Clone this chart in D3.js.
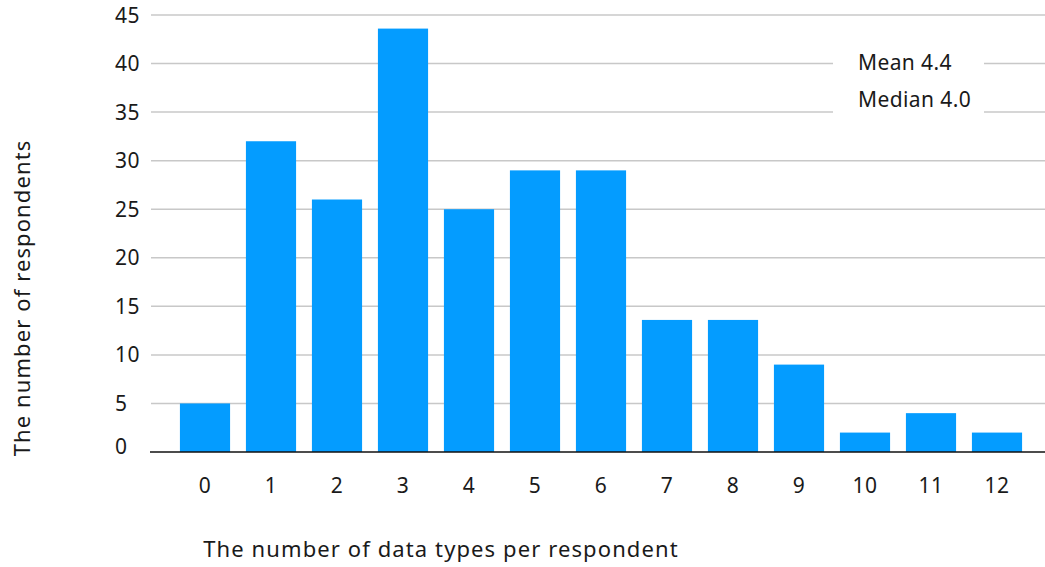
<!DOCTYPE html>
<html>
<head>
<meta charset="utf-8">
<script src="https://cdn.jsdelivr.net/npm/d3@7"></script>
<style>
  html, body { margin: 0; padding: 0; background: #fff; }
  svg { display: block; font-family: "Noto Sans", sans-serif; }
</style>
</head>
<body>
<svg id="chart" width="1045" height="567"></svg>
<script>
const categories = ["0","1","2","3","4","5","6","7","8","9","10","11","12"];
const respondents = [5, 32, 26, 43.6, 25, 29, 29, 13.6, 13.6, 9, 2, 4, 2];
const yTicks = [0, 5, 10, 15, 20, 25, 30, 35, 40, 45];
const statLabels = ["Mean 4.4", "Median 4.0"];
const xTitle = "The number of data types per respondent";
const yTitle = "The number of respondents";

const svg = d3.select("#chart");
const W = 1045, H = 567;

const x = d3.scaleBand().domain(categories).range([172, 1030]).paddingInner(0.24).paddingOuter(0.12);
const y = d3.scaleLinear().domain([0, 45]).range([452, 15]);

// gridlines
svg.append("g").selectAll("line")
  .data(yTicks.filter(d => d !== 0))
  .join("line")
  .attr("x1", 151).attr("x2", W)
  .attr("y1", d => y(d)).attr("y2", d => y(d))
  .attr("stroke", "#c8c8c8").attr("stroke-width", 1.5);

// y tick labels
svg.append("g").selectAll("text")
  .data(yTicks)
  .join("text")
  .attr("x", 115).attr("y", d => y(d) - (d === 0 ? 6 : 0))
  .attr("dy", "0.36em")
  .attr("text-anchor", "start")
  .attr("font-size", 21)
  .attr("letter-spacing", 0.5)
  .attr("fill", "#1a1a1a")
  .text(d => d);

// bars
svg.append("g").selectAll("rect")
  .data(respondents)
  .join("rect")
  .attr("x", (d, i) => x(categories[i]))
  .attr("width", x.bandwidth())
  .attr("y", d => y(d))
  .attr("height", d => y(0) - y(d))
  .attr("fill", "#049cff");

// baseline axis
svg.append("line")
  .attr("x1", 150).attr("x2", W)
  .attr("y1", y(0)).attr("y2", y(0))
  .attr("stroke", "#111").attr("stroke-width", 1.5);

// x tick labels
const xAxis = d3.axisBottom(x).tickSize(0).tickPadding(0);
const xg = svg.append("g").attr("transform", `translate(0, ${y(0)})`).call(xAxis);
xg.select(".domain").remove();
xg.selectAll("text")
  .attr("y", 41)
  .attr("dy", 0)
  .attr("font-size", 21)
  .attr("letter-spacing", 0.5)
  .attr("font-family", "Noto Sans, sans-serif")
  .attr("fill", "#1a1a1a");

// legend box with stats
const lg = svg.append("g");
lg.append("rect")
  .attr("x", 833).attr("y", 42).attr("width", 151).attr("height", 78)
  .attr("fill", "#fff");
lg.selectAll("text")
  .data(statLabels)
  .join("text")
  .attr("x", 858)
  .attr("y", (d, i) => 70 + i * 37)
  .attr("font-size", 21)
  .attr("letter-spacing", 0.4)
  .attr("fill", "#1a1a1a")
  .text(d => d);

// axis titles
svg.append("text")
  .attr("x", 441).attr("y", 557)
  .attr("text-anchor", "middle")
  .attr("font-size", 22)
  .attr("letter-spacing", 1.1)
  .attr("fill", "#1a1a1a")
  .text(xTitle);

svg.append("text")
  .attr("transform", "translate(30, 298) rotate(-90)")
  .attr("text-anchor", "middle")
  .attr("font-size", 22)
  .attr("letter-spacing", 1.1)
  .attr("fill", "#1a1a1a")
  .text(yTitle);
</script>
</body>
</html>
